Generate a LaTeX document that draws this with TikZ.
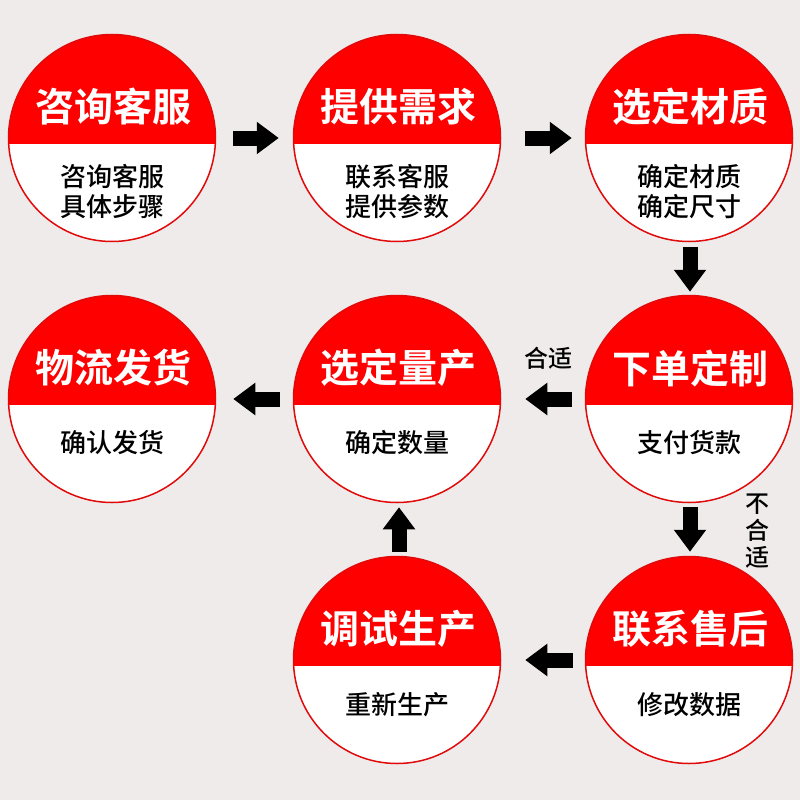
\documentclass[tikz,border=0pt]{standalone}
\usepackage{fontspec}
\setmainfont{Noto Sans CJK SC}
\newfontfamily\cjkb{Noto Sans CJK SC Bold}
\newfontfamily\cjkm{Noto Sans CJK SC Medium}
\usetikzlibrary{arrows.meta}
\definecolor{bg}{RGB}{239,235,235}
\definecolor{cred}{RGB}{255,0,0}
\definecolor{cedge}{RGB}{225,10,10}
\tikzset{
  disc/.style={circle, minimum size=207pt, inner sep=0pt, draw=cedge, line width=1.5pt, fill=white,
    path picture={\fill[cred] (path picture bounding box.north west) rectangle ([yshift=-6pt]path picture bounding box.east);}},
  ttl/.style={text=white, inner sep=0pt, font=\cjkb\fontsize{39}{44}\selectfont},
  sub/.style={text=black, inner sep=0pt, align=center, font=\cjkm\fontsize{26}{30}\selectfont},
  lbl/.style={text=black, inner sep=0pt, align=center, font=\cjkm\fontsize{24}{27}\selectfont},
  blk/.style={line width=15pt, -{Triangle[length=22pt,width=31pt]}},
}
\begin{document}
\begin{tikzpicture}[x=1pt,y=-1pt]
\fill[bg] (0,0) rectangle (800,800);
\useasboundingbox (0,0) rectangle (800,800);
% circles
\node[disc] (c1) at (112,138) {};
\node[disc] (c2) at (397,138) {};
\node[disc] (c3) at (689,138) {};
\node[disc] (c4) at (689,399) {};
\node[disc] (c5) at (397,399) {};
\node[disc] (c6) at (112,399) {};
\node[disc] (c7) at (689,660) {};
\node[disc] (c8) at (397,660) {};
% titles
\node[ttl] (t1) at (113,107) {咨询客服};
\node[ttl] (t2) at (398,107) {提供需求};
\node[ttl] (t3) at (690,107) {选定材质};
\node[ttl] (t4) at (690,368) {下单定制};
\node[ttl] (t5) at (398,368) {选定量产};
\node[ttl] (t6) at (113,368) {物流发货};
\node[ttl] (t7) at (690,629) {联系售后};
\node[ttl] (t8) at (398,629) {调试生产};
% subtitles
\node[sub] (s1) at (112,192) {咨询客服\\具体步骤};
\node[sub] (s2) at (397,192) {联系客服\\提供参数};
\node[sub] (s3) at (689,192) {确定材质\\确定尺寸};
\node[sub] (s4) at (689,443) {支付货款};
\node[sub] (s5) at (397,443) {确定数量};
\node[sub] (s6) at (112,443) {确认发货};
\node[sub] (s7) at (689,705) {修改数据};
\node[sub] (s8) at (397,705) {重新生产};
% labels
\node[lbl] (l1) at (548,358) {合适};
\node[lbl] (l2) at (757,531) {不\\合\\适};
% arrows
\draw[blk, shorten <=17pt, shorten >=14pt] (c1) -- (c2);
\draw[blk, shorten <=24pt, shorten >=13pt] (c2) -- (c3);
\draw[blk, shorten <=5pt, shorten >=3pt] ([xshift=1pt]c3.south) -- ([xshift=1pt]c4.north);
\draw[blk, shorten <=13pt, shorten >=24pt] (c4) -- (c5);
\draw[blk, shorten <=13pt, shorten >=17pt] (c5) -- (c6);
\draw[blk, shorten <=4pt, shorten >=4pt] ([xshift=1pt]c4.south) -- ([xshift=1pt]c7.north);
\draw[blk, shorten <=12pt, shorten >=24pt] (c7) -- (c8);
\draw[blk, shorten <=4pt, shorten >=4pt] ([xshift=2pt]c8.north) -- ([xshift=2pt]c5.south);
\end{tikzpicture}
\end{document}
